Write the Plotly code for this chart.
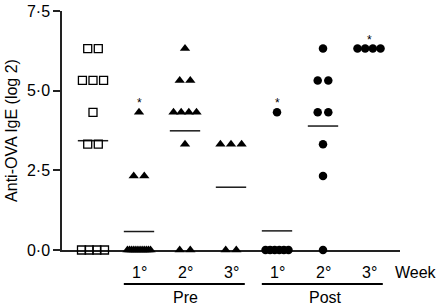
import plotly.graph_objects as go

# ---- data (log2 titres) ----
week_labels = ["1°", "2°", "3°", "1°", "2°", "3°"]
phase_labels = ["Pre", "Post"]
y_tick_vals = [0, 2.5, 5, 7.5]
y_tick_text = ["0·0", "2·5", "5·0", "7·5"]

control = [6.32, 6.32, 5.32, 5.32, 5.32, 4.32, 3.32, 3.32, 0, 0, 0, 0]
pre_1 = [4.32, 2.32, 2.32] + [0] * 12
pre_2 = [6.32, 5.32, 5.32, 4.32, 4.32, 4.32, 4.32, 3.32, 0, 0]
pre_3 = [3.32, 3.32, 3.32, 0, 0]
post_1 = [4.32, 0, 0, 0, 0, 0, 0]
post_2 = [6.32, 5.32, 5.32, 4.32, 4.32, 3.32, 2.32, 0]
post_3 = [6.32, 6.32, 6.32, 6.32]

group_means = [3.43, 0.58, 3.74, 1.97, 0.60, 3.89, 6.32]
significant = [False, True, False, False, True, False, True]

groups = [control, pre_1, pre_2, pre_3, post_1, post_2, post_3]
symbols = ["square-open", "triangle-up", "triangle-up", "triangle-up",
           "circle", "circle", "circle"]


def swarm_offsets(vals, max_step=0.23, max_span=0.5):
    """Spread points sharing the same value side by side around the centre."""
    counts = {}
    for v in vals:
        counts[v] = counts.get(v, 0) + 1
    seen = {}
    offs = []
    for v in vals:
        n = counts[v]
        k = seen.get(v, 0)
        seen[v] = k + 1
        step = min(max_step, max_span / (n - 1)) if n > 1 else 0
        offs.append(k * step - (n - 1) / 2 * step)
    return offs


fig = go.Figure()

# mean lines (behind markers)
for i, m in enumerate(group_means):
    fig.add_trace(go.Scatter(
        x=[i - 0.33, i + 0.33], y=[m, m], mode="lines",
        line=dict(color="#1a1a1a", width=1.5),
        hoverinfo="skip", showlegend=False, cliponaxis=False))

for i, (vals, sym) in enumerate(zip(groups, symbols)):
    offs = swarm_offsets(vals)
    if sym == "square-open":
        marker = dict(symbol=sym, size=8, color="black", line=dict(width=1.3, color="black"))
    elif sym == "triangle-up":
        marker = dict(symbol=sym, size=9, color="black", line=dict(width=0))
    else:
        marker = dict(symbol=sym, size=8.5, color="black", line=dict(width=0))
    fig.add_trace(go.Scatter(
        x=[i + o for o in offs], y=vals, mode="markers", marker=marker,
        showlegend=False, cliponaxis=False))

annotations = []
# significance stars
for i, (vals, s) in enumerate(zip(groups, significant)):
    if s:
        annotations.append(dict(x=i, y=max(vals), xref="x", yref="y", text="*",
                                showarrow=False, yshift=9,
                                font=dict(size=12, color="black")))

LABEL_SIZE = 16
# week labels
for j, t in enumerate(week_labels):
    annotations.append(dict(x=j + 1, y=0, xref="x", yref="paper", text=t,
                            showarrow=False, yanchor="middle", yshift=-22,
                            font=dict(size=LABEL_SIZE, color="black")))
annotations.append(dict(x=1.047, y=0, xref="paper", yref="paper", text="Week",
                        showarrow=False, yanchor="middle", xanchor="center",
                        yshift=-22, font=dict(size=LABEL_SIZE, color="black")))
# Pre / Post labels
for c, t in zip([2.0, 5.05], phase_labels):
    annotations.append(dict(x=c, y=0, xref="x", yref="paper", text=t,
                            showarrow=False, yanchor="middle", yshift=-47,
                            font=dict(size=LABEL_SIZE, color="black")))

shapes = []
for x0, x1 in [(0.67, 3.30), (3.67, 6.30)]:
    shapes.append(dict(type="line", xref="x", yref="paper", x0=x0, x1=x1,
                       y0=-0.142, y1=-0.142, line=dict(color="black", width=2)))

fig.update_layout(
    width=440, height=307,
    margin=dict(l=62, r=40, t=11, b=57, autoexpand=False),
    paper_bgcolor="white", plot_bgcolor="white",
    font=dict(family="Liberation Sans, Arial, sans-serif", size=LABEL_SIZE, color="black"),
    xaxis=dict(range=[-0.674, 6.674], showgrid=False, zeroline=False,
               showticklabels=False, ticks="", showline=True,
               linecolor="#222", linewidth=1.5, layer="below traces",
               automargin=False, fixedrange=True),
    yaxis=dict(range=[0, 7.5], showgrid=False, zeroline=False,
               tickvals=y_tick_vals, ticktext=y_tick_text,
               ticks="outside", ticklen=7, tickwidth=1.5, tickcolor="#222",
               showline=True, linecolor="#222", linewidth=1.5,
               layer="below traces", automargin=False,
               ticklabeloverflow="allow",
               tickfont=dict(size=LABEL_SIZE),
               title=dict(text="Anti-OVA IgE (log 2)", standoff=5,
                          font=dict(size=LABEL_SIZE)),
               fixedrange=True),
    annotations=annotations, shapes=shapes,
)

# remove the default 8px page margin so the figure fills the window exactly
fig.write_html("out.html", config={"displayModeBar": False},
               post_script="document.body.style.margin='0';document.body.style.overflow='hidden';")
